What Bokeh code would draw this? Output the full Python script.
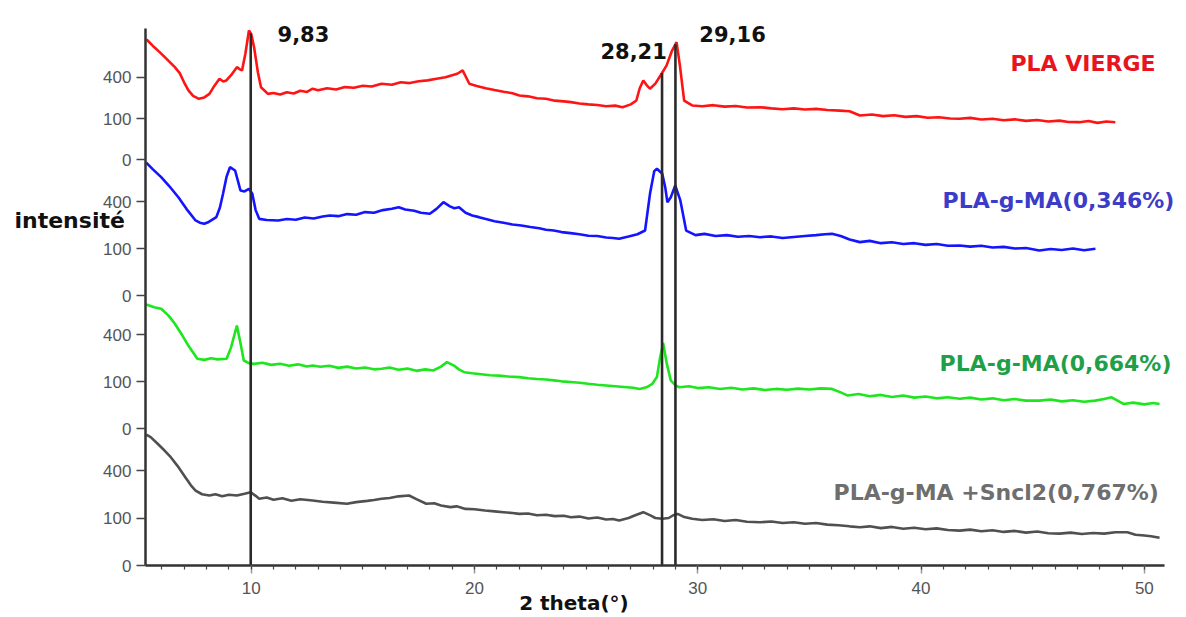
import numpy as np
from bokeh.plotting import figure
from bokeh.models import FixedTicker, Range1d, Label
from bokeh.embed import file_html
from bokeh.resources import INLINE

# ---------------- data (2theta in degrees, intensity in counts) ----------------
red_x = [5.3, 5.36, 5.6, 5.9, 6.2, 6.58, 6.8, 7.0, 7.19, 7.4, 7.66, 7.9, 8.13, 8.35, 8.58, 8.75, 8.89,
         9.1, 9.36, 9.5, 9.59, 9.74, 9.90, 10.0, 10.13, 10.3, 10.44, 10.75, 11.0, 11.3, 11.6, 11.9,
         12.2, 12.5, 12.75, 13.0, 13.4, 13.8, 14.2, 14.6, 15.0, 15.4, 15.84, 16.3, 16.7, 17.1, 17.5,
         17.9, 18.3, 18.7, 19.0, 19.23, 19.47, 19.77, 20.1, 20.5, 20.9, 21.3, 21.7, 22.01, 22.4, 22.8,
         23.2, 23.6, 24.0, 24.32, 24.7, 25.1, 25.5, 25.9, 26.3, 26.63, 27.0, 27.25, 27.4, 27.56, 27.7,
         27.86, 28.1, 28.33, 28.6, 28.85, 29.05, 29.2, 29.39, 29.75, 30.2, 30.7, 31.2, 31.7, 32.2,
         32.79, 33.3, 33.8, 34.3, 34.8, 35.3, 35.8, 36.36, 36.8, 37.26, 37.8, 38.3, 38.8, 39.3, 39.8,
         40.3, 40.8, 41.3, 41.72, 42.2, 42.7, 43.2, 43.7, 44.2, 44.7, 45.2, 45.7, 46.2, 46.6, 47.09,
         47.5, 47.9, 48.3, 48.70]
red_i = [850, 834, 760, 680, 600, 503, 440, 350, 282, 240, 218, 228, 255, 320, 385, 360, 369,
         420, 503, 480, 468, 659, 980, 930, 743, 450, 309, 255, 262, 250, 268, 258,
         280, 270, 296, 284, 300, 290, 310, 305, 322, 315, 339, 330, 352, 345, 362,
         370, 385, 400, 420, 434, 468, 339, 320, 300, 285, 272, 260, 242, 236, 222,
         218, 205, 200, 195, 186, 180, 176, 168, 172, 162, 180, 206, 300, 369, 330,
         296, 340, 417, 520, 700, 811, 520, 206, 173, 168, 175, 166, 170, 160,
         162, 155, 150, 155, 148, 152, 145, 142, 138, 115, 120, 112, 116, 108, 112,
         104, 106, 100, 99, 103, 95, 99, 92, 96, 89, 93, 86, 90, 84, 83,
         88, 80, 86, 83]

blue_x = [5.3, 5.6, 5.97, 6.3, 6.74, 7.1, 7.51, 7.7, 7.90, 8.1, 8.44, 8.6, 8.74, 8.9, 9.05, 9.28,
          9.4, 9.52, 9.7, 9.90, 10.05, 10.2, 10.36, 10.7, 11.21, 11.6, 12.0, 12.4, 12.8, 13.2, 13.52,
          13.9, 14.3, 14.7, 15.1, 15.5, 15.9, 16.3, 16.61, 16.9, 17.3, 17.6, 18.0, 18.3, 18.61, 18.9,
          19.1, 19.31, 19.6, 19.9, 20.2, 20.47, 20.9, 21.3, 21.7, 22.1, 22.5, 22.9, 23.2, 23.55, 23.9,
          24.3, 24.7, 25.1, 25.5, 25.9, 26.2, 26.48, 26.9, 27.3, 27.64, 27.86, 28.05, 28.17, 28.41,
          28.55, 28.64, 28.8, 28.99, 29.22, 29.48, 29.9, 30.3, 30.8, 31.3, 31.8, 32.3, 32.79, 33.3,
          33.8, 34.3, 34.8, 35.3, 35.7, 36.01, 36.4, 36.8, 37.26, 37.7, 38.2, 38.7, 39.2, 39.7, 40.2,
          40.7, 41.2, 41.73, 42.2, 42.7, 43.2, 43.7, 44.2, 44.7, 45.30, 45.8, 46.3, 46.8, 47.3, 47.81]
blue_i = [800, 720, 634, 550, 437, 340, 255, 240, 233, 245, 278, 350, 468, 640, 745, 707,
          600, 499, 490, 515, 468, 330, 266, 258, 255, 265, 260, 275, 268, 282, 290,
          285, 300, 295, 315, 310, 330, 340, 353, 335, 325, 310, 302, 340, 394, 360,
          345, 353, 310, 290, 278, 266, 250, 240, 228, 222, 212, 205, 196, 191, 182,
          176, 170, 162, 160, 152, 150, 146, 158, 170, 191, 468, 700, 727, 671,
          520, 394, 440, 548, 409, 191, 165, 172, 160, 165, 156, 160, 154, 158,
          150, 155, 160, 165, 170, 172, 160, 142, 129, 135, 124, 128, 120, 124, 116,
          120, 112, 113, 108, 112, 104, 107, 100, 102, 92, 98, 94, 100, 93, 99]

green_x = [5.3, 5.66, 5.97, 6.3, 6.58, 6.9, 7.2, 7.59, 7.9, 8.2, 8.5, 8.90, 9.1, 9.36, 9.5, 9.67,
           9.9, 10.13, 10.5, 10.9, 11.3, 11.7, 12.1, 12.5, 12.75, 13.1, 13.5, 13.9, 14.3, 14.7, 15.1,
           15.5, 15.84, 16.2, 16.6, 17.0, 17.4, 17.8, 18.15, 18.5, 18.77, 19.08, 19.3, 19.54, 19.9,
           20.3, 20.7, 21.1, 21.5, 22.01, 22.4, 22.8, 23.2, 23.55, 23.9, 24.3, 24.7, 25.09, 25.5,
           25.9, 26.3, 26.7, 27.1, 27.40, 27.7, 27.95, 28.17, 28.3, 28.45, 28.6, 28.79, 29.0, 29.18,
           29.6, 30.0, 30.5, 31.0, 31.5, 32.0, 32.5, 33.0, 33.5, 34.0, 34.5, 35.0, 35.5, 36.01, 36.4,
           36.72, 37.2, 37.7, 38.2, 38.7, 39.2, 39.7, 40.2, 40.7, 41.2, 41.73, 42.2, 42.7, 43.2, 43.7,
           44.2, 44.7, 45.30, 45.8, 46.3, 46.8, 47.3, 47.8, 48.2, 48.53, 48.8, 49.06, 49.5, 50.0,
           50.4, 50.68]
green_i = [700, 669, 652, 580, 499, 400, 310, 222, 215, 225, 218, 222, 300, 483, 350, 211,
           195, 191, 198, 185, 192, 180, 188, 176, 181, 174, 180, 168, 175, 165, 170,
           160, 163, 170, 158, 164, 152, 160, 154, 175, 201, 181, 160, 145, 140,
           135, 130, 128, 124, 121, 116, 112, 110, 106, 102, 99, 96, 92, 88,
           85, 82, 79, 76, 72, 78, 90, 121, 220, 333, 200, 106, 85, 78,
           82, 75, 78, 72, 76, 70, 74, 68, 72, 69, 73, 70, 74, 72, 60,
           50, 55, 48, 52, 46, 50, 44, 47, 42, 45, 41, 44, 39, 42, 37,
           40, 36, 36, 39, 34, 37, 33, 36, 40, 45, 36, 28, 31, 27,
           30, 28]

gray_x = [5.3, 5.50, 5.8, 6.12, 6.4, 6.7, 7.05, 7.3, 7.51, 7.8, 8.13, 8.4, 8.7, 9.0, 9.36, 9.7,
          9.98, 10.2, 10.36, 10.7, 11.0, 11.4, 11.8, 12.2, 12.75, 13.2, 13.7, 14.29, 14.7, 15.2, 15.5,
          15.84, 16.2, 16.6, 17.07, 17.4, 17.84, 18.2, 18.5, 18.92, 19.2, 19.6, 20.0, 20.47, 20.9,
          21.3, 21.7, 22.01, 22.4, 22.8, 23.2, 23.6, 24.0, 24.32, 24.7, 25.1, 25.5, 25.9, 26.2,
          26.48, 26.9, 27.2, 27.56, 27.9, 28.1, 28.41, 28.7, 28.9, 29.10, 29.4, 29.75, 30.2, 30.7,
          31.2, 31.7, 32.2, 32.79, 33.3, 33.8, 34.3, 34.8, 35.3, 35.8, 36.3, 36.8, 37.26, 37.7, 38.2,
          38.7, 39.2, 39.7, 40.2, 40.7, 41.2, 41.73, 42.2, 42.7, 43.2, 43.7, 44.2, 44.7, 45.2, 45.7,
          46.20, 46.7, 47.2, 47.7, 48.2, 48.7, 49.24, 49.6, 50.0, 50.3, 50.68]
gray_i = [760, 730, 660, 586, 520, 440, 346, 285, 249, 225, 217, 225, 212, 222, 217, 228,
          238, 215, 197, 205, 192, 200, 186, 195, 187, 180, 175, 169, 178, 185, 190,
          197, 202, 212, 217, 195, 169, 172, 160, 151, 155, 142, 140, 134, 130,
          126, 122, 118, 120, 112, 114, 108, 110, 103, 106, 98, 102, 94, 96,
          90, 100, 112, 126, 110, 100, 97, 100, 112, 118, 104, 97, 92, 95,
          88, 92, 85, 83, 86, 80, 83, 77, 80, 74, 72, 68, 65, 68, 62,
          66, 60, 63, 58, 61, 56, 54, 57, 52, 55, 50, 53, 48, 51, 46,
          45, 48, 44, 47, 45, 49, 49, 42, 40, 38, 34]

series_names = ["PLA VIERGE", "PLA-g-MA(0,346%)", "PLA-g-MA(0,664%)", "PLA-g-MA +Sncl2(0,767%)"]
series_x = [red_x, blue_x, green_x, gray_x]
series_i = [red_i, blue_i, green_i, gray_i]

intensity_ticks = [0, 100, 400]
x_ticks = [10, 20, 30, 40, 50]
peak_pos = [9.98, 28.4, 29.0]
peak_labels = ["9,83", "28,21", "29,16"]

# ---------------- styling / layout ----------------
line_colors = ["#ff1414", "#1414ff", "#1ee61e", "#505050"]
label_colors = ["#e8141e", "#3c3cc8", "#1fa048", "#6e6e6e"]
panel_base = [405.7, 270.0, 136.7, 0.0]   # stacked offsets (sqrt-intensity panels)
panel_gain = [4.13, 4.7, 4.7, 4.75]
X0, X1 = 5.267, 50.9      # drawn extent of the x axis
Y_TOP = 537               # drawn extent of the y axis (stacked units)


def stack(k, vals):
    return panel_base[k] + panel_gain[k] * np.sqrt(np.asarray(vals, dtype=float))


p = figure(width=1186, height=617, output_backend="svg", toolbar_location=None,
           x_range=Range1d(-1.226, 51.887), y_range=Range1d(-52, 565), title=None,
           min_border_left=0, min_border_right=0, min_border_top=0, min_border_bottom=0)
p.outline_line_color = None
p.xgrid.visible = False
p.ygrid.visible = False
p.background_fill_color = "white"
p.border_fill_color = "white"

for k in range(4):
    p.line(series_x[k], stack(k, series_i[k]), line_color=line_colors[k], line_width=2.6)

# peak marker lines, from the axis up to the red pattern
red_stack = stack(0, red_i)
tops = [float(np.interp(xp, red_x, red_stack)) for xp in peak_pos]
p.segment(x0=peak_pos, y0=[0] * 3, x1=peak_pos, y1=tops, line_color="#2a2a2a", line_width=2.6)

# axes (drawn at fixed data locations inside the canvas)
yt = []
overrides = {}
for k in range(4):
    for t in intensity_ticks:
        v = round(float(stack(k, [t])[0]), 2)
        yt.append(v)
        overrides[v] = str(t)
p.yaxis.ticker = FixedTicker(ticks=yt)
p.yaxis.major_label_overrides = overrides
p.xaxis.ticker = FixedTicker(ticks=x_ticks, minor_ticks=list(range(6, 51)))
p.xaxis.fixed_location = 0
p.yaxis.fixed_location = X0
p.xaxis.bounds = (X0, X1)
p.yaxis.bounds = (0, Y_TOP)

for ax in (p.xaxis[0], p.yaxis[0]):
    ax.axis_line_color = "#333333"
    ax.axis_line_width = 2.5
    ax.major_label_text_font = "Liberation Sans"
    ax.major_label_text_font_size = "17px"
    ax.major_label_text_color = "#555555"
p.yaxis.major_tick_out = 9
p.yaxis.major_tick_in = 0
p.yaxis.major_tick_line_color = "#444444"
p.yaxis.major_tick_line_width = 1.5
p.yaxis.minor_tick_line_color = None
p.yaxis.major_label_standoff = 5
p.xaxis.major_tick_out = 8
p.xaxis.major_tick_in = 0
p.xaxis.major_tick_line_color = "#999999"
p.xaxis.major_tick_line_width = 1.5
p.xaxis.minor_tick_out = 4
p.xaxis.minor_tick_in = 0
p.xaxis.minor_tick_line_color = "#444444"
p.xaxis.minor_tick_line_width = 1.2
p.xaxis.major_label_standoff = 8

FONT = "DejaVu Sans"


def add_label(x, y, text, color, size, align="left"):
    p.add_layout(Label(x=x, y=y, text=text, text_color=color, text_font=FONT,
                       text_font_style="bold", text_font_size=size,
                       text_align=align, text_baseline="middle"))


# peak labels
peak_label_xy = [(11.18, 532), (25.64, 515), (30.07, 532)]
for (lx, ly), t in zip(peak_label_xy, peak_labels):
    add_label(lx, ly, t, "#111111", "21px")

# series labels
series_label_xy = [(44.0, 502), (40.96, 365), (40.83, 202), (36.08, 73)]
for k in range(4):
    add_label(series_label_xy[k][0], series_label_xy[k][1], series_names[k], label_colors[k], "22px")

# axis titles
add_label(-0.6, 345, "intensité", "#111111", "22px")
add_label(22.0, -37, "2 theta(°)", "#111111", "20px")

open("out.html", "w").write(file_html(p, INLINE))
